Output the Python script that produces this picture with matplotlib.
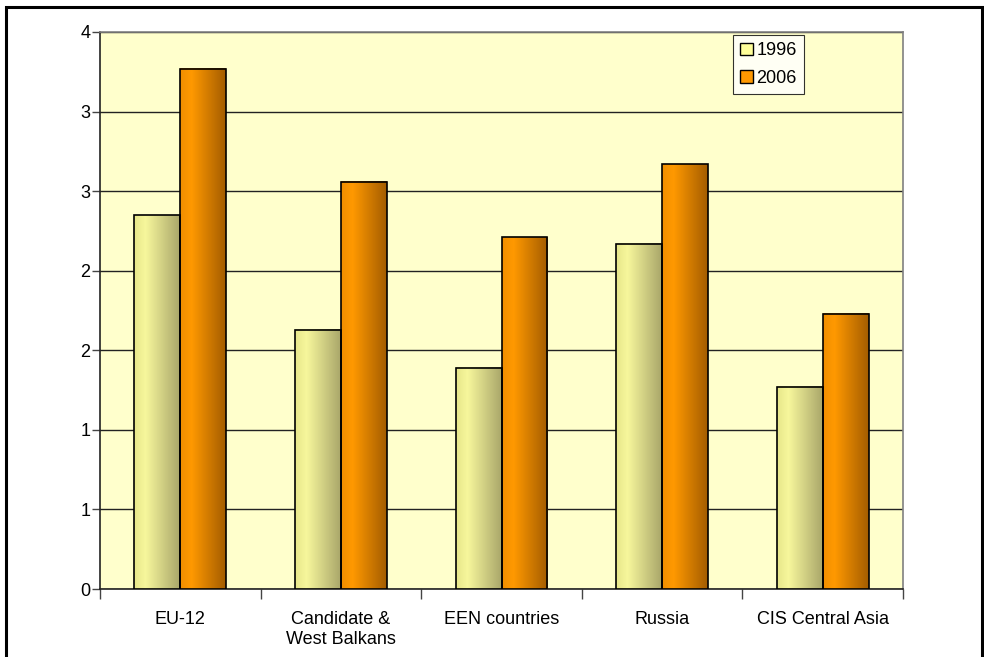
import numpy as np
import matplotlib
matplotlib.use("Agg")
import matplotlib.pyplot as plt
from matplotlib.colors import LinearSegmentedColormap
from matplotlib.patches import Rectangle, Patch

categories = ["EU-12", "Candidate &\nWest Balkans", "EEN countries", "Russia", "CIS Central Asia"]
series_names = ["1996", "2006"]
values_1996 = [2.35, 1.63, 1.39, 2.17, 1.27]
values_2006 = [3.27, 2.56, 2.21, 2.67, 1.73]
ytick_values = [0, 0.5, 1, 1.5, 2, 2.5, 3, 3.5]
ytick_labels = ["0", "1", "1", "2", "2", "3", "3", "4"]

plt.rcParams['font.family'] = ['Liberation Sans', 'DejaVu Sans']

fig = plt.figure(figsize=(9.84, 6.57), dpi=100)
W, H = 984, 657
ax = fig.add_axes([100 / W, (H - 589) / H, 803 / W, 557 / H])
ax.set_facecolor("#FFFFCC")

cmap96 = LinearSegmentedColormap.from_list("c96", [(0, "#E6E68A"), (0.25, "#F7F79C"), (1, "#A9A66A")])
cmap06 = LinearSegmentedColormap.from_list("c06", [(0, "#F08E00"), (0.25, "#FF9900"), (1, "#A35C00")])

n = len(categories)
x = np.arange(n)
bw = 0.286
grad = np.linspace(0, 1, 256).reshape(1, -1)

for vals, cmap, off in [(values_1996, cmap96, -bw / 2), (values_2006, cmap06, bw / 2)]:
    bars = ax.bar(x + off, vals, width=bw, color="none", edgecolor="black", linewidth=1.2, zorder=4)
    for b in bars:
        x0 = b.get_x()
        h = b.get_height()
        ax.imshow(grad, cmap=cmap, extent=(x0, x0 + bw, 0, h), aspect="auto", zorder=3, interpolation="bicubic")

ax.set_xlim(-0.5, n - 0.5)
ax.set_ylim(0, 3.5)

fs = 13
ax.set_yticks(ytick_values)
ax.set_yticklabels(ytick_labels, fontsize=fs)
ax.yaxis.grid(True, color="#222222", linewidth=1.0, zorder=1)
ax.set_axisbelow(True)

ax.set_xticks(np.arange(n + 1) - 0.5)
ax.set_xticklabels([])
ax.set_xticks(x, minor=True)
ax.set_xticklabels(categories, minor=True, fontsize=fs, linespacing=1.25)
ax.tick_params(axis="x", which="minor", length=0, pad=16)
ax.tick_params(axis="x", which="major", length=7, width=1, color="#444444", direction="out")
ax.tick_params(axis="y", length=6, width=1, color="#444444", direction="out", pad=1)

for s in ["top", "right"]:
    ax.spines[s].set_color("#808080")
    ax.spines[s].set_linewidth(1.2)
ax.spines["left"].set_color("#222222")
ax.spines["bottom"].set_color("#222222")
ax.spines["left"].set_linewidth(1.2)
ax.spines["bottom"].set_linewidth(1.2)

handles = [Patch(facecolor="#FFFF99", edgecolor="black", linewidth=1.0),
           Patch(facecolor="#FF9900", edgecolor="black", linewidth=1.0)]
leg = ax.legend(handles, series_names, loc="upper left", bbox_to_anchor=((733 - 100) / 803, (589 - 35) / 557),
                fontsize=fs, frameon=True, fancybox=False, handlelength=0.7, handleheight=0.7,
                handletextpad=0.2, borderpad=0.4, labelspacing=0.6, borderaxespad=0)
leg.get_frame().set_edgecolor("black")
leg.get_frame().set_linewidth(0.8)
leg.get_frame().set_facecolor("white")
leg.set_zorder(10)

# outer figure border
fig.patches.append(Rectangle((6 / W, -0.05), (982 - 6) / W, 1.05 - 7 / H, transform=fig.transFigure,
                             fill=False, edgecolor="black", linewidth=2.2))

fig.savefig("out.png", dpi=100)
